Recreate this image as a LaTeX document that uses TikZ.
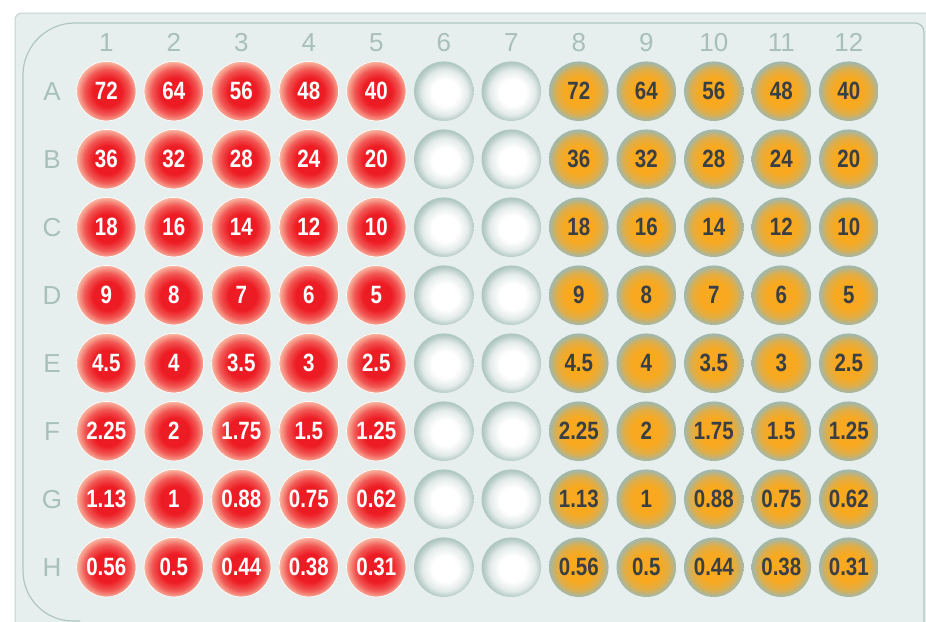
\documentclass[tikz,border=0pt]{standalone}
\usepackage{fontspec}
\setmainfont{Liberation Sans}
\newfontfamily\numfont[FakeStretch=0.82]{Liberation Sans}
\definecolor{platebg}{HTML}{E6EFEE}
\definecolor{plateedge}{HTML}{C3D4D0}
\definecolor{innerline}{HTML}{B0C6C1}
\definecolor{labelcol}{HTML}{A8BFBA}
\definecolor{wrA}{HTML}{ED1C24}
\definecolor{wrB}{HTML}{F8B09C}
\definecolor{woA}{HTML}{F9A91F}
\definecolor{woB}{HTML}{9FB8AE}
\definecolor{weB}{HTML}{AFC6C1}
\definecolor{darktext}{HTML}{3A3F44}
\pgfdeclareradialshading{redwell}{\pgfpoint{1bp}{-1bp}}{color(0bp)=(wrA); color(12bp)=(wrA); color(19bp)=(wrA!60!wrB); color(25bp)=(wrB); color(50bp)=(wrB)}
\pgfdeclareradialshading{orangewell}{\pgfpoint{0bp}{-0.5bp}}{color(0bp)=(woA); color(12bp)=(woA); color(19bp)=(woA!70!woB); color(25bp)=(woB); color(50bp)=(woB)}
\pgfdeclareradialshading{emptywell}{\pgfpoint{1.5bp}{-1.5bp}}{color(0bp)=(white); color(11bp)=(white); color(19bp)=(weB!35!white); color(25bp)=(weB); color(50bp)=(weB)}
\tikzset{
  well/.style={circle, minimum size=59.5pt, inner sep=0pt, shade},
  redw/.style={well, shading=redwell, draw=white, line width=0.7pt, text=white, font=\numfont\bfseries\fontsize{25}{25}\selectfont},
  orangew/.style={well, shading=orangewell, text=darktext, font=\numfont\bfseries\fontsize{25}{25}\selectfont},
  emptyw/.style={well, shading=emptywell},
  axlabel/.style={text=labelcol, font=\fontsize{26}{26}\selectfont, inner sep=0pt}
}
\begin{document}
\begin{tikzpicture}[x=1pt,y=-1pt]
\useasboundingbox (0,0) rectangle (926,621);
\clip (0,0) rectangle (926,621);
\fill[white] (0,0) rectangle (926,621);
% plate
\draw[plateedge, fill=platebg, line width=1pt, rounded corners=7pt] (15,13) rectangle (960,660);
\draw[innerline, line width=1.2pt]
  (80,621) [rounded corners=50pt] -| (23,300)
  [rounded corners=52pt] |- (500,23)
  [rounded corners=9pt] -| (924,660);
% column labels
\foreach \c in {1,...,12}
  \node[axlabel] (col\c) at ({106.3+(\c-1)*67.5},42.5) {\c};
% rows
\foreach \r/\lab/\vals in {1/A/{72,64,56,48,40},2/B/{36,32,28,24,20},3/C/{18,16,14,12,10},4/D/{9,8,7,6,5},5/E/{4.5,4,3.5,3,2.5},6/F/{2.25,2,1.75,1.5,1.25},7/G/{1.13,1,0.88,0.75,0.62},8/H/{0.56,0.5,0.44,0.38,0.31}}{
  \pgfmathsetmacro{\yy}{91.2+(\r-1)*68}
  \node[axlabel] (row\lab) at (52,\yy) {\lab};
  \foreach \v [count=\c] in \vals {
    \node[redw] (w\lab\c) at ({106.3+(\c-1)*67.5},\yy) {\v};
    \pgfmathtruncatemacro{\cc}{\c+7}
    \node[orangew] (w\lab\cc) at ({106.3+(\cc-1)*67.5},\yy) {\v};
  }
  \node[emptyw] (w\lab6) at ({106.3+5*67.5},\yy) {};
  \node[emptyw] (w\lab7) at ({106.3+6*67.5},\yy) {};
}
\end{tikzpicture}
\end{document}
